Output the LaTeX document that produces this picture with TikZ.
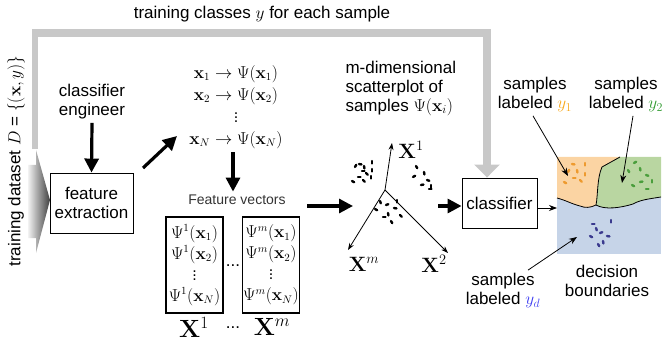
\documentclass[tikz,border=0pt]{standalone}
\usepackage{amssymb,amsmath}
\usepackage[no-math]{fontspec}
\setmainfont{Liberation Sans}
\usepackage{tikz}
\usetikzlibrary{arrows,arrows.meta,calc,positioning}
\definecolor{railgray}{HTML}{C8C8C8}
\definecolor{orangefill}{HTML}{FBD4A3}
\definecolor{greenfill}{HTML}{B9D6A1}
\definecolor{bluefill}{HTML}{C6D4E8}
\definecolor{orangedot}{HTML}{EE9A2E}
\definecolor{greendot}{HTML}{4A9E3C}
\definecolor{bluedot}{HTML}{3A3A8E}
\definecolor{labelone}{HTML}{F7A81B}
\definecolor{labeltwo}{HTML}{2F9A2F}
\definecolor{labeld}{HTML}{3C3CF0}

\begin{document}
\begin{tikzpicture}[x=1pt,y=-1pt,
		font=\fontsize{17}{19}\selectfont,
		block/.style={draw,line width=0.9pt,align=center,inner sep=0pt},
		col/.style={draw,line width=1.1pt,align=center,inner sep=0pt,minimum width=57pt,minimum height=96pt,font=\fontsize{16}{21}\selectfont},
		bigarrow/.style={line width=3.2pt,-{Triangle[length=14pt,width=14pt]}},
		thinarrow/.style={line width=0.8pt,-{Stealth[length=8pt,width=6pt]}},
		axis/.style={line width=0.8pt,-{Stealth[length=7pt,width=5pt]}},
		speck/.style={line width=2.4pt,line cap=round}
		]
		\useasboundingbox (0,0) rectangle (667,342);
		\node (title) at (262,14) {training classes $y$ for each sample};
		\node[rotate=90] (dataset) at (16,161) {training dataset $D$ = $\{(\mathbf{x},y)\}$};
		\shade[left color=gray!10,right color=black!75] (28,165) -- (36,165) -- (36,150) -- (50,200) -- (36,253) -- (36,238) -- (28,238) -- cycle;
		\node (engineer) [align=center] at (92,102) {classifier\\engineer};
		\node[block,minimum width=83pt,minimum height=60pt] (feat) at (91.5,203) {feature\\extraction};
		\node[align=center,font=\fontsize{16}{22}\selectfont] (mapping) at (236,107) {$\mathbf{x}_1\rightarrow\Psi(\mathbf{x}_1)$\\$\mathbf{x}_2\rightarrow\Psi(\mathbf{x}_2)$\\$\vdots$\\$\mathbf{x}_N\rightarrow\Psi(\mathbf{x}_N)$};
		\node[font=\fontsize{14}{16}\selectfont,text=black!80] (fv) at (237,200) {Feature vectors};
		\node[col] (colone) at (194.5,265) {$\Psi^1(\mathbf{x}_1)$\\$\Psi^1(\mathbf{x}_2)$\\$\vdots$\\$\Psi^1(\mathbf{x}_N)$};
		\node[col] (colm) at (271,265) {$\Psi^m(\mathbf{x}_1)$\\$\Psi^m(\mathbf{x}_2)$\\$\vdots$\\$\Psi^m(\mathbf{x}_N)$};
		\node (coldots) at (233,266) {...};
		\node[font=\fontsize{24}{24}\selectfont] (xone) at (194,327) {$\mathbf{X}^1$};
		\node[font=\fontsize{24}{24}\selectfont] (xm) at (272,327) {$\mathbf{X}^m$};
		\node (xdots) at (233,328) {...};
		\node[align=left,anchor=west] (scatcap) at (342,88) {m-dimensional\\scatterplot of\\samples $\Psi(\mathbf{x}_i)$};
		\node[font=\fontsize{20}{20}\selectfont] (labxone) at (411,150) {$\mathbf{X}^1$};
		\node[font=\fontsize{20}{20}\selectfont] (labxtwo) at (434,264) {$\mathbf{X}^2$};
		\node[font=\fontsize{20}{20}\selectfont] (labxm) at (364,264) {$\mathbf{X}^m$};
		\node[block,minimum width=75pt,minimum height=50pt] (classif) at (499.5,203) {classifier};
		\node[align=center] (labone) at (535,95) {samples\\labeled \textcolor{labelone}{$y_1$}};
		\node[align=center] (labtwo) at (626,95) {samples\\labeled \textcolor{labeltwo}{$y_2$}};
		\node[align=center] (labd) at (503,291) {samples\\labeled \textcolor{labeld}{$y_d$}};
		\node[align=center] (bound) at (607,281) {decision\\boundaries};
		\coordinate (railstart) at (35,149);
		\coordinate (railcorner) at (487,33);
		\draw[railgray,line width=6pt] (railstart) -- (railstart |- railcorner);
		\draw[railgray,line width=8.5pt,-{Triangle[length=13pt,width=25pt]}] ($(railstart |- railcorner)+(-3,0)$) -- (railcorner) -- (railcorner |- classif.north);
		\draw[bigarrow] (engineer.south) -- (feat.north);
		\coordinate (diagfrom) at (143,168);
		\coordinate (diagto) at (177,136);
		\draw[bigarrow] (diagfrom) -- (diagto);
		\coordinate (mapout) at ($(mapping.south)+(-3,0)$);
		\draw[bigarrow] (mapout) -- (mapout |- fv.north);
		\coordinate (fvout) at (307,206);
		\coordinate (scatin) at (353,206);
		\draw[bigarrow] (fvout) -- (scatin);
		\coordinate (orig) at (385,190);
		\coordinate (axone) at (392,143);
		\coordinate (axtwo) at (448,253);
		\coordinate (axm) at (348,250);
		\draw[axis] (orig) -- (axone);
		\draw[axis] (orig) -- (axtwo);
		\draw[axis] (orig) -- (axm);
		\foreach \x/\y/\a in {352/181/30,355/167/-60,359/164/10,364/166/80,362/171/0,366/173/45,372/161/90,372/169/90,371/176/90,358/177/0,363/180/45,416/166/60,413/177/-30,424/172/80,427/180/20,421/185/-10,431/185/90,429/189/0,375/209/30,380/201/70,386/205/-20,388/213/80,394/208/10,397/200/90,391/221/60,383/217/0,400/215/45}
			\draw[speck] (\x,\y) -- ++(\a:2.5);
		\coordinate (scatout) at (438,206);
		\draw[bigarrow] (scatout) -- (scatout -| classif.west);
		\fill[bluefill] (557,157) rectangle (661,254);
		\fill[orangefill] (557,157) -- (620,157) -- (602,167) .. controls (597,178) and (598,195) .. (596,205) .. controls (590,208) and (585,208) .. (580,206) .. controls (572,204) and (565,200) .. (557,198) -- cycle;
		\fill[greenfill] (620,157) -- (661,157) -- (661,197) .. controls (648,199) and (640,200) .. (633,204) .. controls (620,208) and (605,210) .. (596,205) .. controls (598,195) and (597,178) .. (602,167) -- cycle;
		\draw[line width=0.8pt] (620,157) -- (602,167) .. controls (597,178) and (598,195) .. (596,205);
		\draw[line width=0.8pt] (557,198) .. controls (565,200) and (572,204) .. (580,206) .. controls (585,208) and (590,208) .. (596,205) .. controls (605,210) and (620,208) .. (633,204) .. controls (640,200) and (648,199) .. (661,197);
		\foreach \x/\y/\a in {564/182/30,568/172/-60,572/164/10,577/170/80,585/163/90,585/173/90,573/178/0,580/180/45}
			\draw[speck,orangedot] (\x,\y) -- ++(\a:2.5);
		\foreach \x/\y/\a in {628/170/60,634/163/-30,640/168/80,646/175/20,640/182/-10,652/180/90,632/185/30,646/189/0}
			\draw[speck,greendot] (\x,\y) -- ++(\a:2.5);
		\foreach \x/\y/\a in {590/236/30,596/228/70,600/233/-20,603/241/80,607/236/10,611/220/90,598/244/60,592/224/0}
			\draw[speck,bluedot] (\x,\y) -- ++(\a:2.5);
		\coordinate (decin) at (557,208);
		\draw[thinarrow] (decin -| classif.east) -- (decin);
		\coordinate (ptone) at (568,176);
		\coordinate (pttwo) at (622,183);
		\coordinate (ptd) at (577,237);
		\draw[thinarrow] ($(labone.south)+(-2,0)$) -- (ptone);
		\draw[thinarrow] ($(labtwo.south)+(7,0)$) -- (pttwo);
		\draw[thinarrow] ($(labd.north)+(25,0)$) -- (ptd);
\end{tikzpicture}
\end{document}
